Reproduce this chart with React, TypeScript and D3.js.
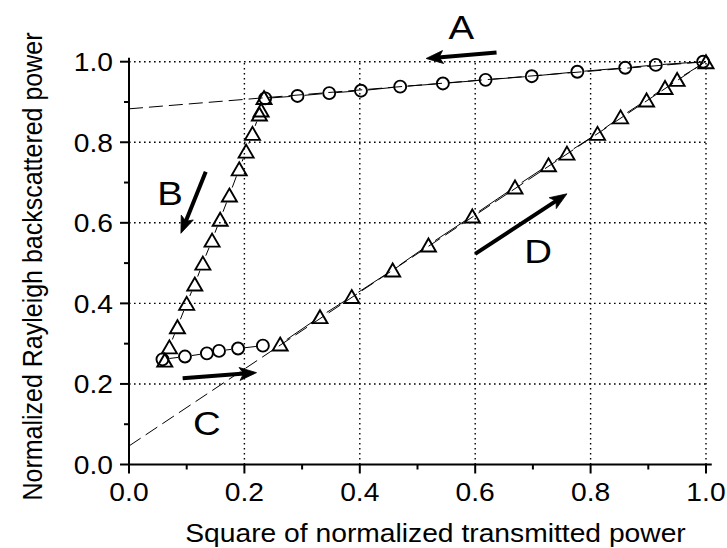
import React from "react";
import * as d3 from "d3";

// ---- data ----
const circleUpperX = [0.236, 0.292, 0.347, 0.402, 0.470, 0.544, 0.618, 0.698, 0.777, 0.860, 0.913, 0.995];
const circleUpperY = [0.909, 0.915, 0.922, 0.928, 0.938, 0.946, 0.955, 0.964, 0.975, 0.985, 0.992, 1.0];

const circleLowerX = [0.058, 0.097, 0.135, 0.156, 0.189, 0.232];
const circleLowerY = [0.261, 0.268, 0.276, 0.282, 0.288, 0.295];

const triBX = [0.234, 0.229, 0.226, 0.214, 0.203, 0.191, 0.174, 0.158, 0.144, 0.128, 0.114, 0.100, 0.084, 0.070, 0.062];
const triBY = [0.911, 0.880, 0.870, 0.822, 0.778, 0.734, 0.669, 0.609, 0.557, 0.500, 0.448, 0.400, 0.342, 0.292, 0.259];

const triDX = [0.262, 0.331, 0.386, 0.457, 0.519, 0.595, 0.669, 0.727, 0.759, 0.812, 0.852, 0.897, 0.929, 0.950, 1.0];
const triDY = [0.299, 0.367, 0.417, 0.483, 0.545, 0.617, 0.689, 0.744, 0.773, 0.822, 0.863, 0.905, 0.936, 0.956, 1.0];

const fitAX = [0, 1];
const fitAY = [0.883, 1.0];
const fitDX = [0, 1];
const fitDY = [0.046, 1.001];

const annLabels = ["A", "B", "C", "D"];
const annLabelX = [0.576, 0.071, 0.135, 0.709];
const annLabelY = [1.056, 0.644, 0.072, 0.501];
const arrowFromX = [0.637, 0.133, 0.093, 0.600];
const arrowFromY = [1.023, 0.727, 0.214, 0.523];
const arrowToX = [0.515, 0.090, 0.221, 0.759];
const arrowToY = [1.008, 0.574, 0.228, 0.672];

const xTickValues = [0, 0.2, 0.4, 0.6, 0.8, 1.0];
const yTickValues = [0, 0.2, 0.4, 0.6, 0.8, 1.0];
const xTickLabels = ["0.0", "0.2", "0.4", "0.6", "0.8", "1.0"];
const yTickLabels = ["0.0", "0.2", "0.4", "0.6", "0.8", "1.0"];
const minorTickValues = [0.1, 0.3, 0.5, 0.7, 0.9];

const xTitle = "Square of normalized transmitted power";
const yTitle = "Normalized Rayleigh backscattered power";

// ---- layout ----
const W = 727;
const H = 548;
const FONT = "'Liberation Sans', Arial, Helvetica, sans-serif";
const SX = 1.13; // horizontal stretch of the reference

const x = d3.scaleLinear().domain([0, 1]).range([129, 706]);
const y = d3.scaleLinear().domain([0, 1]).range([464.5, 61.7]);

function zip(xs: number[], ys: number[]) {
  return xs.map((v, i) => [x(v), y(ys[i])] as [number, number]);
}

function gappedSegments(pts: [number, number][], gap: number) {
  const segs: string[] = [];
  for (let i = 0; i < pts.length - 1; i++) {
    const [x1, y1] = pts[i];
    const [x2, y2] = pts[i + 1];
    const dx = x2 - x1, dy = y2 - y1;
    const len = Math.hypot(dx, dy);
    if (len <= 2 * gap) continue;
    const ux = dx / len, uy = dy / len;
    segs.push(`M${x1 + ux * gap},${y1 + uy * gap}L${x2 - ux * gap},${y2 - uy * gap}`);
  }
  return segs.join("");
}

function Arrow({ x1, y1, x2, y2 }: { x1: number; y1: number; x2: number; y2: number }) {
  const dx = x2 - x1, dy = y2 - y1;
  const len = Math.hypot(dx, dy);
  const ux = dx / len, uy = dy / len;
  const nx = -uy, ny = ux;
  const L = 17, hw = 6.5;
  const bx = x2 - ux * L, by = y2 - uy * L;
  const notchX = bx + ux * 4, notchY = by + uy * 4;
  const head = `M${x2},${y2}L${bx + nx * hw},${by + ny * hw}L${notchX},${notchY}L${bx - nx * hw},${by - ny * hw}Z`;
  return (
    <g>
      <line x1={x1} y1={y1} x2={notchX + ux * 1} y2={notchY + uy * 1} stroke="#000" strokeWidth={4} />
      <path d={head} fill="#000" stroke="#000" strokeWidth={0.8} strokeLinejoin="miter" />
    </g>
  );
}

function Triangle({ cx, cy }: { cx: number; cy: number }) {
  const w = 7.5, h = 6.5;
  return (
    <path
      d={`M${cx},${cy - h}L${cx + w},${cy + h}L${cx - w},${cy + h}Z`}
      fill="none"
      stroke="#000"
      strokeWidth={1.9}
      strokeLinejoin="miter"
    />
  );
}

export default function App() {
  const upper = zip(circleUpperX, circleUpperY);
  const lower = zip(circleLowerX, circleLowerY);
  const triB = zip(triBX, triBY);
  const triD = zip(triDX, triDY);
  const line = d3.line<[number, number]>();

  const x0 = x(0), y0 = y(0);
  const gridRight = x(1.004);
  const gridTop = y(1.004);

  return (
    <svg
      width={W}
      height={H}
      style={{ position: "absolute", left: 0, top: 0, background: "#fff" }}
      fontFamily={FONT}
    >
      <rect x={0} y={0} width={W} height={H} fill="#fff" />

      {/* grid */}
      <g stroke="#000" strokeWidth={1.4} strokeDasharray="1.6,3.4">
        {xTickValues.filter((v) => v > 0).map((v) => (
          <line key={"gx" + v} x1={x(v)} x2={x(v)} y1={y0} y2={gridTop} />
        ))}
        {yTickValues.filter((v) => v > 0).map((v) => (
          <line key={"gy" + v} x1={x0} x2={gridRight} y1={y(v)} y2={y(v)} />
        ))}
      </g>

      {/* fit lines */}
      <g fill="none" stroke="#000" strokeWidth={1} strokeDasharray="14,6">
        <path d={line(zip(fitAX, fitAY)) || ""} />
        <path d={line(zip(fitDX, fitDY)) || ""} />
      </g>

      {/* connecting lines with symbol gaps */}
      <g fill="none" stroke="#000" strokeWidth={1}>
        <path d={gappedSegments(upper, 7)} />
        <path d={gappedSegments(lower, 7)} />
        <path d={gappedSegments(triB, 8)} />
        <path d={gappedSegments(triD, 8)} />
      </g>

      {/* markers */}
      <g fill="none" stroke="#000" strokeWidth={1.9}>
        {upper.concat(lower).map(([cx, cy], i) => (
          <ellipse key={"c" + i} cx={cx} cy={cy} rx={6} ry={6} />
        ))}
      </g>
      {triB.concat(triD).map(([cx, cy], i) => (
        <Triangle key={"t" + i} cx={cx} cy={cy} />
      ))}

      {/* axes */}
      <g stroke="#000" strokeWidth={2}>
        <line x1={x0} x2={x0} y1={y0 + 1} y2={y(1.01)} />
        <line x1={x0 - 1} x2={x(1.01)} y1={y0} y2={y0} />
        {yTickValues.map((v) => (
          <line key={"yt" + v} x1={x0 - 9} x2={x0} y1={y(v)} y2={y(v)} />
        ))}
        {minorTickValues.map((v) => (
          <line key={"ym" + v} x1={x0 - 5} x2={x0} y1={y(v)} y2={y(v)} />
        ))}
        {xTickValues.map((v) => (
          <line key={"xt" + v} x1={x(v)} x2={x(v)} y1={y0} y2={y0 + 9} />
        ))}
        {minorTickValues.map((v) => (
          <line key={"xm" + v} x1={x(v)} x2={x(v)} y1={y0} y2={y0 + 5} />
        ))}
      </g>

      {/* tick labels */}
      <g fontSize={25} fill="#000">
        {xTickValues.map((v, i) => (
          <text key={"xl" + v} textAnchor="middle" transform={`translate(${x(v)},${500.5}) scale(${SX},1)`}>
            {xTickLabels[i]}
          </text>
        ))}
        {yTickValues.map((v, i) => (
          <text key={"yl" + v} textAnchor="end" transform={`translate(${113},${y(v) + 9.5}) scale(${SX},1)`}>
            {yTickLabels[i]}
          </text>
        ))}
      </g>

      {/* axis titles */}
      <text fontSize={25} textAnchor="middle" transform={`translate(435.5,542) scale(${SX},1)`}>
        {xTitle}
      </text>
      <text fontSize={25} textAnchor="middle" transform={`translate(42,266.5) scale(${SX},1) rotate(-90)`}>
        {yTitle}
      </text>

      {/* annotations */}
      {annLabels.map((t, i) => (
        <g key={"a" + t}>
          <Arrow x1={x(arrowFromX[i])} y1={y(arrowFromY[i])} x2={x(arrowToX[i])} y2={y(arrowToY[i])} />
          <text fontSize={34} textAnchor="middle" transform={`translate(${x(annLabelX[i])},${y(annLabelY[i])}) scale(${SX},1)`}>
            {t}
          </text>
        </g>
      ))}
    </svg>
  );
}
